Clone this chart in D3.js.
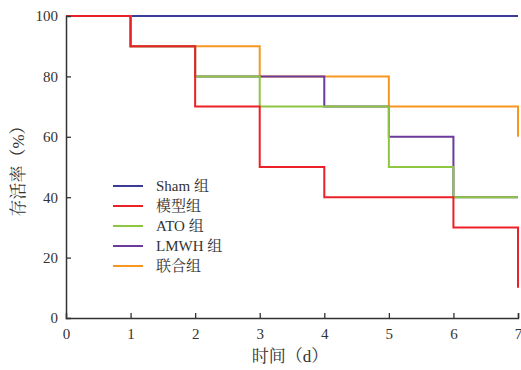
<!DOCTYPE html>
<html><head><meta charset="utf-8">
<script src="https://cdn.jsdelivr.net/npm/d3@7"></script>
<style>body{margin:0;background:#fff}</style>
</head><body><svg id="c" width="521" height="370"></svg>
<script>
const days = [0,1,2,3,4,5,6,7];
const seriesNames = ["Sham 组","模型组","ATO 组","LMWH 组","联合组"];
const shamVals  = [100,100,100,100,100,100,100,100];
const modelVals = [100,90,70,50,40,40,30,10];
const atoVals   = [100,90,80,70,70,50,40,40];
const lmwhVals  = [100,90,80,80,70,60,40,40];
const unionVals = [100,90,90,80,80,70,70,60];
const colors = ["#3b3b98","#ec2027","#8dc641","#6b3a9c","#f7971f"];
const xTicks = [0,1,2,3,4,5,6,7];
const yTicks = [0,20,40,60,80,100];

const svg = d3.select("#c");
const x = d3.scaleLinear().domain([0,7]).range([66,518]);
const y = d3.scaleLinear().domain([0,100]).range([318,16]);
const font = "'Liberation Serif','Noto Serif CJK SC','Noto Sans CJK SC',serif";

const allVals = [shamVals,modelVals,atoVals,lmwhVals,unionVals];
// step path: value v[i] holds on [i, i+1); last value drawn as vertical drop at 7
function stepPts(v){
  const pts=[];
  for(let i=0;i<7;i++){pts.push([days[i],v[i]]);pts.push([days[i+1],v[i]]);}
  pts.push([7,v[7]]);
  return pts;
}
const line = d3.line().x(d=>x(d[0])).y(d=>y(d[1]));
const order = [0,4,3,2,1];
order.forEach(k=>{
  svg.append("path").attr("d",line(stepPts(allVals[k])))
    .attr("fill","none").attr("stroke",colors[k]).attr("stroke-width",2);
});

// axes
const ax = d3.axisBottom(x).tickValues(xTicks).tickSize(-5).tickPadding(10).tickFormat(d3.format("d"));
const gx = svg.append("g").attr("transform",`translate(0,${y(0)})`).call(ax);
const ay = d3.axisLeft(y).tickValues(yTicks).tickSize(-5).tickPadding(8).tickFormat(d3.format("d"));
const gy = svg.append("g").attr("transform",`translate(${x(0)},0)`).call(ay);
[gx,gy].forEach(g=>{
  g.select(".domain").attr("stroke","#333").attr("stroke-width",1.5);
  g.selectAll(".tick line").attr("stroke","#333").attr("stroke-width",1.3);
  g.selectAll("text").attr("font-family",font).attr("font-size",15).attr("fill","#333");
});
gy.selectAll(".tick line").filter(d=>d===0||d===100).remove();
gx.selectAll(".tick line").filter(d=>d===0).remove();

svg.append("text").attr("x",290).attr("y",362).attr("text-anchor","middle")
  .attr("font-family",font).attr("font-size",17).attr("fill","#333").text("时间（d）");
svg.append("text").attr("transform","translate(24,167) rotate(-90)").attr("text-anchor","middle")
  .attr("font-family",font).attr("font-size",17).attr("fill","#333").text("存活率（%）");

// legend
seriesNames.forEach((n,i)=>{
  const ly = 186 + i*20;
  svg.append("line").attr("x1",113).attr("x2",143).attr("y1",ly).attr("y2",ly)
    .attr("stroke",colors[i]).attr("stroke-width",2);
  svg.append("text").attr("x",156).attr("y",ly+5).attr("font-family",font)
    .attr("font-size",15).attr("fill","#333").text(n);
});
</script></body></html>
